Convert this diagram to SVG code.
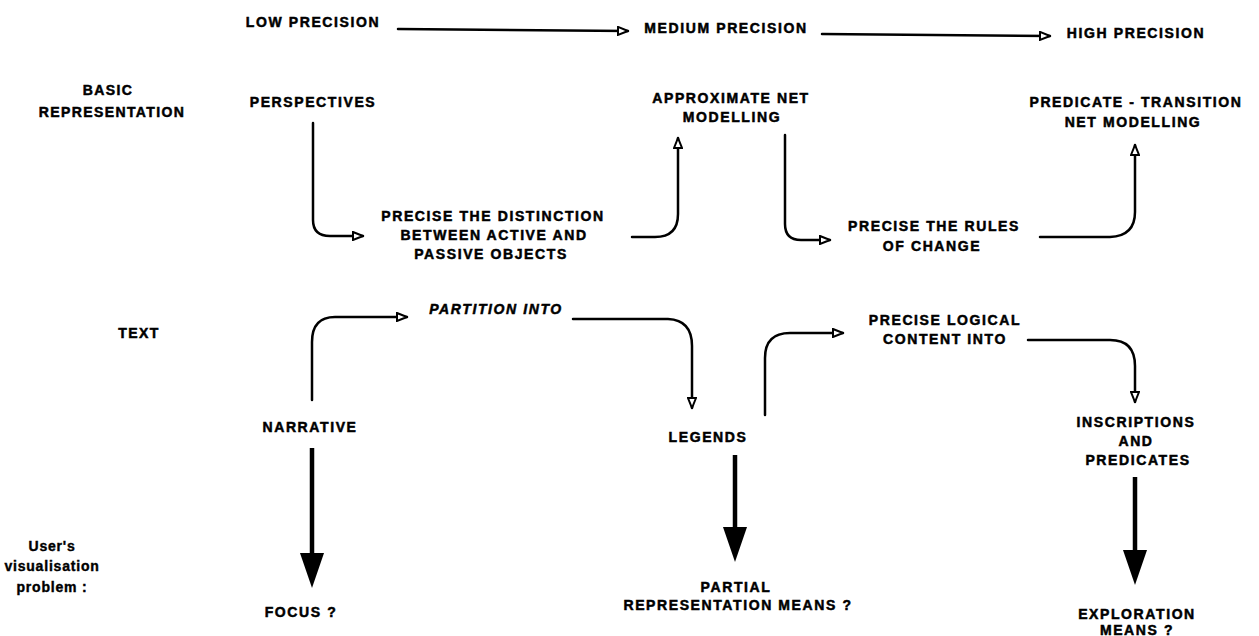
<svg xmlns="http://www.w3.org/2000/svg" width="1259" height="636" viewBox="0 0 1259 636">
<style>
.t{font-family:"Liberation Sans",Arial,sans-serif;font-weight:bold;font-size:14px;fill:#000;stroke:#000;stroke-width:0.5;text-anchor:middle;letter-spacing:1.6px}
.l{font-family:"Liberation Sans",Arial,sans-serif;font-weight:bold;font-size:14px;fill:#000;stroke:#000;stroke-width:0.5;text-anchor:middle;letter-spacing:1.4px}
.u{font-family:"Liberation Sans",Arial,sans-serif;font-weight:bold;font-size:14px;fill:#000;stroke:#000;stroke-width:0.4;text-anchor:middle;letter-spacing:0.8px}
.c{fill:none;stroke:#000;stroke-width:2.5;stroke-linecap:round;stroke-linejoin:round}
.k{stroke:#000;stroke-width:4.5;fill:none}
.h{fill:#000;stroke:none}
</style>
<defs>
<marker id="oa" markerUnits="userSpaceOnUse" viewBox="0 0 12 10" refX="11" refY="5" markerWidth="12" markerHeight="10" orient="auto">
<path d="M1,1 L11,5 L1,9 Z" fill="#fff" stroke="#000" stroke-width="2"/>
</marker>
</defs>
<rect width="1259" height="636" fill="#fff"/>

<g id="axis-labels">
<text class="t" x="313" y="27">LOW PRECISION</text>
<text class="t" x="726" y="33">MEDIUM PRECISION</text>
<text class="t" x="1136" y="38">HIGH PRECISION</text>
</g>
<g id="row-basic"><text class="l" x="108" y="95">BASIC</text><text class="l" x="112" y="117">REPRESENTATION</text></g>
<g id="row-text"><text class="l" x="139" y="338">TEXT</text></g>
<g id="row-user"><text class="u" x="52" y="551">User's</text><text class="u" x="52" y="571">visualisation</text><text class="u" x="52" y="592">problem :</text></g>

<g id="perspectives"><text class="t" x="313" y="107">PERSPECTIVES</text></g>
<g id="distinction"><text class="t" x="493" y="221">PRECISE THE DISTINCTION</text><text class="t" x="494" y="240">BETWEEN ACTIVE AND</text><text class="t" x="491" y="259">PASSIVE OBJECTS</text></g>
<g id="approx-net"><text class="t" x="731" y="103">APPROXIMATE NET</text><text class="t" x="732" y="122">MODELLING</text></g>
<g id="rules"><text class="t" x="934" y="231">PRECISE THE RULES</text><text class="t" x="932" y="251">OF CHANGE</text></g>
<g id="pt-net"><text class="t" x="1136" y="107">PREDICATE - TRANSITION</text><text class="t" x="1133" y="127">NET MODELLING</text></g>

<g id="partition"><text class="t" x="496" y="314" font-style="italic">PARTITION INTO</text></g>
<g id="narrative"><text class="t" x="310" y="432">NARRATIVE</text></g>
<g id="legends"><text class="t" x="708" y="442">LEGENDS</text></g>
<g id="logical"><text class="t" x="945" y="325">PRECISE LOGICAL</text><text class="t" x="945" y="344">CONTENT INTO</text></g>
<g id="inscriptions"><text class="t" x="1136" y="427">INSCRIPTIONS</text><text class="t" x="1136" y="446">AND</text><text class="t" x="1138" y="465">PREDICATES</text></g>

<g id="focus"><text class="t" x="301" y="617">FOCUS ?</text></g>
<g id="partial"><text class="t" x="736" y="592">PARTIAL</text><text class="t" x="738" y="610">REPRESENTATION MEANS ?</text></g>
<g id="exploration"><text class="t" x="1137" y="619">EXPLORATION</text><text class="t" x="1137" y="635">MEANS ?</text></g>

<g id="connectors">
<path class="c" d="M398,29 L628,31" marker-end="url(#oa)"/>
<path class="c" d="M822,34 L1050,36" marker-end="url(#oa)"/>
<path class="c" d="M313,123 V220 Q313,236 330,236 H363" marker-end="url(#oa)"/>
<path class="c" d="M632,237 H655 Q678,237 678,214 V138" marker-end="url(#oa)"/>
<path class="c" d="M785,135 V224 Q785,240 801,240 H830" marker-end="url(#oa)"/>
<path class="c" d="M1040,237 H1110 Q1135,236 1135,212 V145" marker-end="url(#oa)"/>
<path class="c" d="M312,400 V342 Q312,317 335,317 H407" marker-end="url(#oa)"/>
<path class="c" d="M573,319 H668 Q692,320 692,346 V408" marker-end="url(#oa)"/>
<path class="c" d="M765,415 V358 Q765,333 790,333 H843" marker-end="url(#oa)"/>
<path class="c" d="M1028,340 H1110 Q1135,340 1135,366 V402" marker-end="url(#oa)"/>
<line class="k" x1="312" y1="448" x2="312" y2="558"/>
<path class="h" d="M300,553 L324,553 L312,588 Z"/>
<line class="k" x1="735" y1="455" x2="735" y2="532"/>
<path class="h" d="M723,527 L747,527 L735,562 Z"/>
<line class="k" x1="1135" y1="477" x2="1135" y2="555"/>
<path class="h" d="M1123,550 L1147,550 L1135,585 Z"/>
</g>
</svg>
